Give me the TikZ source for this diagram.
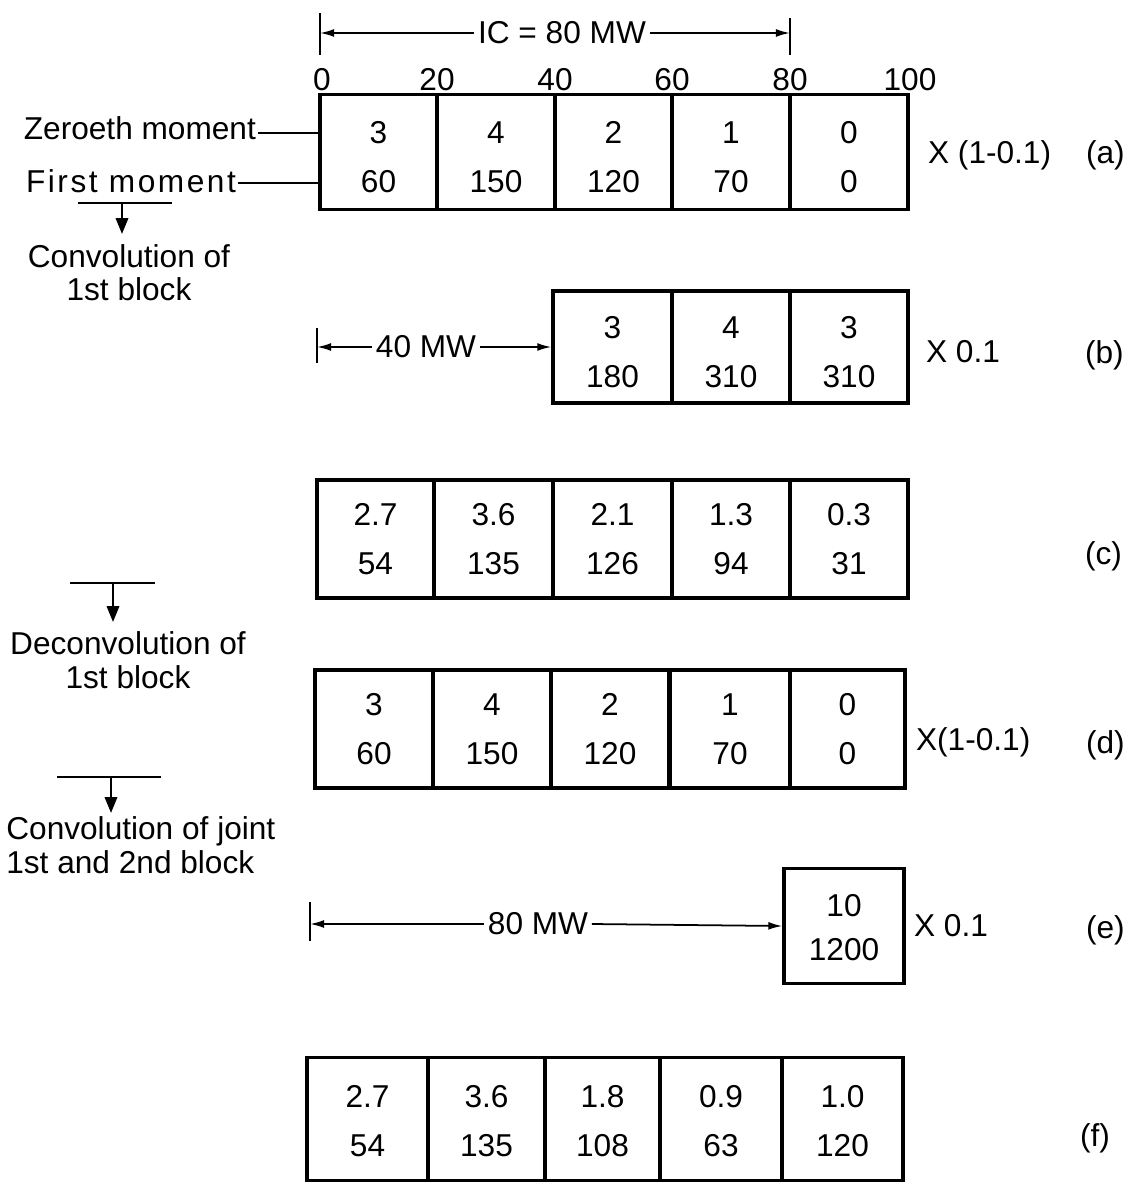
\documentclass[tikz,border=0pt]{standalone}
\usepackage{fontspec}
\setmainfont{Liberation Sans}
\usetikzlibrary{arrows.meta}
\begin{document}
\begin{tikzpicture}[x=0.02cm,y=-0.02cm,
  cell/.style={draw, line width=1.9pt, inner sep=0pt},
  num/.style={inner sep=0pt, align=center, font=\fontsize{18}{28}\selectfont},
  lbl/.style={inner sep=1pt, font=\fontsize{18}{20}\selectfont},
  note/.style={inner sep=0pt, align=center, font=\fontsize{18}{19}\selectfont},
  dimlbl/.style={inner sep=2pt, font=\fontsize{18}{20}\selectfont},
  dim/.style={line width=1pt, -{Latex[length=8pt,width=4.5pt]}},
  tickmark/.style={line width=1.6pt},
  lead/.style={line width=1pt},
  flowbar/.style={line width=1.3pt},
  flow/.style={line width=1.3pt, -{Triangle[length=9pt,width=7pt]}},
]
\useasboundingbox (0,0) rectangle (1138,1186);

% ---------- (a) ----------
\coordinate (icL) at (320,33);
\coordinate (icR) at (790,33);
\draw[tickmark] ([yshift=0.4cm]icL) -- ([yshift=-0.44cm]icL);
\draw[tickmark] ([yshift=0.3cm]icR) -- ([yshift=-0.44cm]icR);
\node[dimlbl] (ic) at (562,33) {IC = 80 MW};
\draw[dim] (ic.west) -- (icL);
\draw[dim] (ic.east) -- (icR);

\foreach \v/\x in {0/322, 20/437, 40/555, 60/672, 80/790, 100/910}
  \node[lbl] (s\v) at (\x,80) {\v};

\begin{scope}[every label/.style={num, yshift=-0.11cm}]
\node[cell, minimum width=2.34cm, minimum height=2.3cm, label=center:{3\\60}] (a1) at (378.5,152) {};
\node[cell, minimum width=2.36cm, minimum height=2.3cm, label=center:{4\\150}] (a2) at (496,152) {};
\node[cell, minimum width=2.34cm, minimum height=2.3cm, label=center:{2\\120}] (a3) at (613.5,152) {};
\node[cell, minimum width=2.36cm, minimum height=2.3cm, label=center:{1\\70}] (a4) at (731,152) {};
\node[cell, minimum width=2.36cm, minimum height=2.3cm, label=center:{0\\0}] (a5) at (849,152) {};
\end{scope}

\node[lbl, anchor=east] (zero) at (258,128) {Zeroeth moment};
\node[lbl, anchor=east] (first) at (238,181) {\addfontfeature{LetterSpace=8}First moment};
\coordinate (zeroE) at (a1.west |- 0,133);
\coordinate (firstE) at (a1.west |- 0,183);
\draw[lead] (zero.east |- zeroE) -- (zeroE);
\draw[lead] (first.east |- firstE) -- (firstE);

\node[lbl, anchor=west] (xa) at (926,155) {X (1-0.1)};
\node[lbl, anchor=west] (ta) at (1084,155) {(a)};

% step 1
\coordinate (f1L) at (78,203);
\coordinate (f1R) at (172,203);
\coordinate (f1M) at (122,203);
\draw[flowbar] (f1L) -- (f1R);
\node[note] (conv1) at (129,273) {Convolution of\\1st block};
\draw[flow] (f1M) -- (f1M |- 0,234);

% ---------- (b) ----------
\begin{scope}[every label/.style={num, yshift=-0.1cm}]
\node[cell, minimum width=2.38cm, minimum height=2.24cm, label=center:{3\\180}] (b1) at (612.5,347) {};
\node[cell, minimum width=2.36cm, minimum height=2.24cm, label=center:{4\\310}] (b2) at (731,347) {};
\node[cell, minimum width=2.36cm, minimum height=2.24cm, label=center:{3\\310}] (b3) at (849,347) {};
\end{scope}
\coordinate (bL) at (317,347);
\draw[tickmark] ([yshift=0.38cm]bL) -- ([yshift=-0.32cm]bL);
\node[dimlbl] (bw) at (426,347) {40 MW};
\draw[dim] (bw.west) -- (bL);
\draw[dim] (bw.east) -- (b1.west);
\node[lbl, anchor=west] (xb) at (924,352) {X 0.1};
\node[lbl, anchor=west] (tb) at (1083,355) {(b)};

% ---------- (c) ----------
\begin{scope}[every label/.style={num}]
\node[cell, minimum width=2.34cm, minimum height=2.36cm, label=center:{2.7\\54}] (c1) at (375.5,539) {};
\node[cell, minimum width=2.38cm, minimum height=2.36cm, label=center:{3.6\\135}] (c2) at (493.5,539) {};
\node[cell, minimum width=2.38cm, minimum height=2.36cm, label=center:{2.1\\126}] (c3) at (612.5,539) {};
\node[cell, minimum width=2.36cm, minimum height=2.36cm, label=center:{1.3\\94}] (c4) at (731,539) {};
\node[cell, minimum width=2.36cm, minimum height=2.36cm, label=center:{0.3\\31}] (c5) at (849,539) {};
\end{scope}
\node[lbl, anchor=west] (tc) at (1083,556) {(c)};

% step 2
\coordinate (f2L) at (70,583);
\coordinate (f2R) at (155,583);
\coordinate (f2M) at (113,583);
\draw[flowbar] (f2L) -- (f2R);
\node[note] (deconv) at (128,660) {Deconvolution of\\1st block};
\draw[flow] (f2M) -- (f2M |- 0,622);

% ---------- (d) ----------
\begin{scope}[every label/.style={num}]
\node[cell, minimum width=2.36cm, minimum height=2.36cm, label=center:{3\\60}] (d1) at (374,729) {};
\node[cell, minimum width=2.38cm, minimum height=2.36cm, label=center:{4\\150}] (d2) at (492,729) {};
\node[cell, minimum width=2.36cm, minimum height=2.36cm, label=center:{2\\120}] (d3) at (610,729) {};
\node[cell, minimum width=2.4cm, minimum height=2.36cm, label=center:{1\\70}] (d4) at (730,729) {};
\node[cell, minimum width=2.3cm, minimum height=2.36cm, label=center:{0\\0}] (d5) at (847.5,729) {};
\end{scope}
\node[lbl, anchor=west] (xd) at (914,742) {X(1-0.1)};
\node[lbl, anchor=west] (td) at (1084,745) {(d)};

% step 3
\coordinate (f3L) at (57,777);
\coordinate (f3R) at (161,777);
\coordinate (f3M) at (111,777);
\draw[flowbar] (f3L) -- (f3R);
\node[note, align=left, anchor=west] (joint) at (6,845) {Convolution of joint\\1st and 2nd block};
\draw[flow] (f3M) -- (f3M |- 0,813);

% ---------- (e) ----------
\node[cell, minimum width=2.4cm, minimum height=2.3cm,
  label={[num, font=\fontsize{18}{25}\selectfont, yshift=-0.04cm]center:{10\\1200}}] (e1) at (844,926) {};
\coordinate (eL) at (310,924);
\draw[tickmark] ([yshift=0.44cm]eL) -- ([yshift=-0.34cm]eL);
\node[dimlbl] (ew) at (538,924) {80 MW};
\draw[dim] (ew.west) -- (eL);
\draw[dim] (ew.east) -- (e1.west);
\node[lbl, anchor=west] (xe) at (912,926) {X 0.1};
\node[lbl, anchor=west] (te) at (1084,930) {(e)};

% ---------- (f) ----------
\begin{scope}[every label/.style={num, yshift=-0.04cm}]
\node[cell, minimum width=2.42cm, minimum height=2.46cm, label=center:{2.7\\54}] (g1) at (367.5,1119) {};
\node[cell, minimum width=2.34cm, minimum height=2.46cm, label=center:{3.6\\135}] (g2) at (486.5,1119) {};
\node[cell, minimum width=2.3cm, minimum height=2.46cm, label=center:{1.8\\108}] (g3) at (602.5,1119) {};
\node[cell, minimum width=2.44cm, minimum height=2.46cm, label=center:{0.9\\63}] (g4) at (721,1119) {};
\node[cell, minimum width=2.42cm, minimum height=2.46cm, label=center:{1.0\\120}] (g5) at (842.5,1119) {};
\end{scope}
\node[lbl, anchor=west] (tf) at (1078,1138) {(f)};
\end{tikzpicture}
\end{document}
